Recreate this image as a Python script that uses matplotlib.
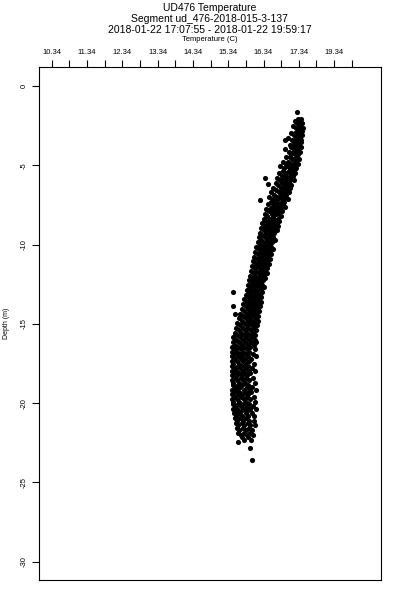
import matplotlib
matplotlib.use('Agg')
import matplotlib.pyplot as plt

plt.rcParams['font.family'] = ['Liberation Sans', 'DejaVu Sans']

# Title text
TITLE_LINES = ['UD476 Temperature',
               'Segment ud_476-2018-015-3-137',
               '2018-01-22 17:07:55 - 2018-01-22 19:59:17']
X_LABEL = 'Temperature (C)'
Y_LABEL = 'Depth (m)'

# top axis ticks (every 0.5 C, labels on every other one, as printed)
x_ticks = [10.34, 10.84, 11.34, 11.84, 12.34, 12.84, 13.34, 13.84, 14.34,
           14.84, 15.34, 15.84, 16.34, 16.84, 17.34, 17.84, 18.34, 18.84]
x_tick_labels = ['10.34', '', '11.34', '', '12.34', '', '13.34', '', '14.34',
                 '', '15.34', '', '16.34', '', '17.34', '', '19.34', '']
y_ticks = [0, -5, -10, -15, -20, -25, -30]

# profile: one depth per row, temperatures in that row
row_depths = [
    -2.05, -2.2, -2.36, -2.5, -2.67, -2.81, -2.95, -3.1, -3.27, -3.4,
    -3.56, -3.7, -3.86, -4.0, -4.15, -4.3, -4.46, -4.6, -4.77, -4.9,
    -5.06, -5.2, -5.35, -5.5, -5.66, -5.8, -5.95, -6.1, -6.25, -6.4,
    -6.56, -6.7, -6.85, -7.0, -7.15, -7.3, -7.46, -7.6, -7.75, -7.9,
    -8.05, -8.2, -8.36, -8.5, -8.65, -8.8, -8.95, -9.1, -9.26, -9.4,
    -9.55, -9.7, -9.86, -10.0, -10.15, -10.3, -10.45, -10.6, -10.76, -10.9,
    -11.05, -11.2, -11.36, -11.5, -11.65, -11.8, -11.96, -12.1, -12.25, -12.4,
    -12.56, -12.7, -12.85, -13.0, -13.15, -13.3, -13.46, -13.6, -13.75, -13.9,
    -14.05, -14.2, -14.36, -14.5, -14.65, -14.8, -14.96, -15.1, -15.25, -15.4,
    -15.56, -15.7, -15.85, -16.0, -16.15, -16.3, -16.46, -16.6, -16.75, -16.9,
    -17.05, -17.2, -17.36, -17.5, -17.65, -17.8, -17.96, -18.1, -18.25, -18.4,
    -18.56, -18.7, -18.85, -19.0, -19.16, -19.3, -19.45, -19.6, -19.76, -19.9,
    -20.05, -20.2, -20.36, -20.5, -20.65, -20.8, -20.96, -21.1, -21.25, -21.4,
    -21.56, -21.7, -21.85, -22.0, -22.15, -22.3]
row_temps = [
    [17.33, 17.41], [17.22, 17.37], [17.29, 17.40, 17.44], [17.18, 17.34],
    [17.26, 17.39, 17.45], [17.31, 17.43], [17.12, 17.24, 17.36],
    [17.20, 17.30, 17.44], [17.03, 17.27, 17.38], [16.96, 17.16, 17.33, 17.41],
    [17.22, 17.29, 17.39], [17.08, 17.18, 17.35], [17.13, 17.26, 17.40],
    [16.95, 17.21, 17.31], [17.05, 17.17, 17.28, 17.37], [17.11, 17.24, 17.33],
    [16.99, 17.08, 17.30], [17.15, 17.21, 17.35], [16.90, 17.04, 17.26],
    [16.97, 17.12, 17.19, 17.31],
    [16.82, 17.01, 17.23], [16.93, 17.09, 17.16, 17.27], [16.88, 17.05, 17.20],
    [16.79, 16.98, 17.12, 17.24], [16.85, 16.94, 17.08, 17.18],
    [16.72, 16.90, 17.03, 17.14], [16.81, 16.96, 17.10, 17.19],
    [16.68, 16.87, 16.99, 17.07], [16.76, 16.92, 17.03, 17.13],
    [16.62, 16.83, 16.95, 17.09],
    [16.70, 16.88, 17.01], [16.55, 16.78, 16.91, 17.05], [16.65, 16.84, 16.97],
    [16.50, 16.72, 16.80, 16.94], [16.60, 16.75, 16.89, 17.02],
    [16.56, 16.68, 16.85, 16.93], [16.47, 16.63, 16.78, 16.88],
    [16.58, 16.71, 16.83, 16.96], [16.42, 16.53, 16.67, 16.80],
    [16.49, 16.62, 16.74, 16.87],
    [16.39, 16.57, 16.69, 16.78], [16.45, 16.60, 16.83], [16.34, 16.51, 16.65, 16.74],
    [16.42, 16.55, 16.69, 16.79], [16.30, 16.47, 16.61, 16.71],
    [16.38, 16.52, 16.64, 16.76], [16.27, 16.43, 16.57, 16.68],
    [16.35, 16.49, 16.60, 16.73], [16.24, 16.40, 16.54, 16.65],
    [16.31, 16.46, 16.58],
    [16.21, 16.37, 16.50, 16.62], [16.28, 16.44, 16.55, 16.67],
    [16.18, 16.33, 16.47, 16.59], [16.25, 16.39, 16.52],
    [16.14, 16.30, 16.43, 16.56], [16.22, 16.36, 16.48, 16.62],
    [16.11, 16.27, 16.40, 16.51], [16.19, 16.32, 16.45, 16.55],
    [16.08, 16.24, 16.37, 16.48], [16.15, 16.29, 16.41, 16.53],
    [16.05, 16.21, 16.34, 16.44], [16.12, 16.26, 16.38, 16.49],
    [16.02, 16.17, 16.30, 16.41], [16.09, 16.23, 16.35, 16.45],
    [15.99, 16.14, 16.27, 16.38], [16.06, 16.20, 16.32, 16.43],
    [15.96, 16.11, 16.24, 16.35], [16.03, 16.17, 16.29, 16.39],
    [15.93, 16.08, 16.21, 16.32], [16.00, 16.14, 16.26],
    [15.90, 16.05, 16.18, 16.30], [15.97, 16.11, 16.23, 16.34],
    [15.87, 16.02, 16.15, 16.27], [15.94, 16.08, 16.20, 16.31],
    [15.84, 15.99, 16.12, 16.25], [15.91, 16.05, 16.18, 16.28],
    [15.80, 15.96, 16.09, 16.22], [15.88, 16.02, 16.15, 16.26],
    [15.76, 15.92, 16.06, 16.19], [15.84, 15.99, 16.13, 16.23],
    [15.72, 15.89, 16.03, 16.17], [15.80, 15.95, 16.10, 16.21],
    [15.68, 15.86, 16.00, 16.14], [15.77, 15.92, 16.07, 16.19],
    [15.64, 15.83, 15.97, 16.12], [15.72, 15.89, 16.04, 16.17],
    [15.60, 15.79, 15.94, 16.09], [15.68, 15.86, 16.01, 16.15],
    [15.56, 15.75, 15.91, 16.07], [15.64, 15.82, 15.98, 16.13],
    [15.52, 15.71, 15.88, 16.05], [15.60, 15.79, 15.95, 16.11],
    [15.49, 15.67, 15.85, 16.02], [15.57, 15.76, 15.92, 16.09],
    [15.47, 15.64, 15.82, 15.99, 16.14], [15.54, 15.73, 15.89, 16.06],
    [15.46, 15.61, 15.80, 15.96], [15.52, 15.70, 15.86, 16.10],
    [15.45, 15.59, 15.77, 15.93], [15.50, 15.67, 15.84, 16.04],
    [15.46, 15.62, 15.74, 15.90, 16.12], [15.53, 15.69, 15.81, 15.98],
    [15.45, 15.58, 15.76, 15.92], [15.49, 15.65, 15.83, 16.07],
    [15.46, 15.61, 15.72, 15.89], [15.52, 15.68, 15.85, 16.01],
    [15.45, 15.57, 15.75, 15.94, 16.11], [15.50, 15.64, 15.81, 15.97],
    [15.46, 15.60, 15.73, 15.88], [15.53, 15.69, 15.84, 16.05],
    [15.45, 15.58, 15.77, 15.93], [15.49, 15.65, 15.82, 16.09],
    [15.47, 15.62, 15.74, 15.90], [15.52, 15.68, 15.86, 16.02],
    [15.45, 15.59, 15.78, 15.95, 16.12], [15.50, 15.66, 15.83, 15.99],
    [15.46, 15.61, 15.75, 15.91], [15.53, 15.70, 15.87, 16.06],
    [15.45, 15.58, 15.79, 15.96], [15.49, 15.64, 15.84, 16.10],
    [15.47, 15.62, 15.76, 15.93], [15.52, 15.69, 15.88, 16.03],
    [15.48, 15.60, 15.80, 15.97, 16.12], [15.55, 15.71, 15.86],
    [15.50, 15.65, 15.83, 16.01], [15.57, 15.74, 15.90, 16.08],
    [15.53, 15.68, 15.85], [15.60, 15.77, 15.94, 16.06],
    [15.56, 15.72, 15.89], [15.63, 15.80, 15.97, 16.09],
    [15.59, 15.75, 15.92], [15.66, 15.83, 16.00],
    [15.62, 15.78, 15.95], [15.70, 15.87, 16.03],
    [15.74, 15.91], [15.80, 15.98],
]

# stray points away from the main band
stray_temps = [17.28, 16.38, 16.47, 16.24, 15.48, 15.48, 15.53, 15.62, 15.96, 16.01]
stray_depths = [-1.62, -5.8, -6.2, -7.2, -13.0, -13.9, -14.4, -22.45, -22.8, -23.6]

temps = []
depths = []
for d, row in zip(row_depths, row_temps):
    for t in row:
        temps.append(t)
        depths.append(d)
temps += stray_temps
depths += stray_depths

fig = plt.figure(figsize=(4, 6), dpi=100)
ax = fig.add_axes([38.5 / 400, 20 / 600, 342.2 / 400, 513 / 600])

ax.plot(temps, depths, 'o', color='black', markersize=3.7, markeredgewidth=0)

ax.set_xlim(9.966, 19.66)
ax.set_ylim(-31.15, 1.2)

ax.xaxis.tick_top()
ax.set_xticks(x_ticks)
ax.set_xticklabels(x_tick_labels, fontsize=5.5)
ax.set_yticks(y_ticks)
ax.set_yticklabels([str(v) for v in y_ticks], fontsize=5.5, rotation=90, va='center')
ax.tick_params(length=5, width=0.8, pad=3)

for s in ax.spines.values():
    s.set_linewidth(0.8)

# titles and axis labels drawn as figure text
fig.text(0.524, 1 - 8 / 600, TITLE_LINES[0], ha='center', va='center', fontsize=7.5)
fig.text(0.524, 1 - 19 / 600, TITLE_LINES[1], ha='center', va='center', fontsize=7.5)
fig.text(0.524, 1 - 30 / 600, TITLE_LINES[2], ha='center', va='center', fontsize=7.5)
fig.text(0.524, 1 - 39.5 / 600, X_LABEL, ha='center', va='center', fontsize=5.5)
fig.text(7 / 400, 1 - 323 / 600, Y_LABEL, ha='center', va='center', fontsize=5, rotation=90)

plt.savefig('out.png', dpi=100)
